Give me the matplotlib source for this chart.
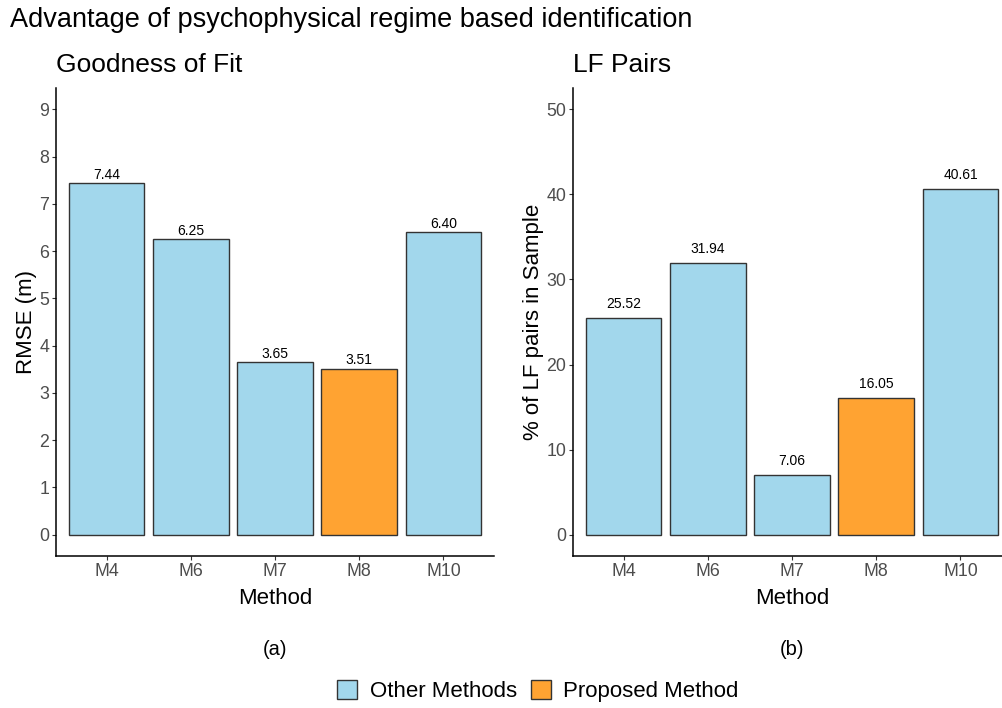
import matplotlib
matplotlib.use("Agg")
import matplotlib.pyplot as plt
from matplotlib.patches import Patch

plt.rcParams["font.family"] = ["Liberation Sans", "DejaVu Sans"]

methods = ["M4", "M6", "M7", "M8", "M10"]
rmse = [7.44, 6.25, 3.65, 3.51, 6.40]
lf_pairs = [25.52, 31.94, 7.06, 16.05, 40.61]
groups = ["Other Methods", "Other Methods", "Other Methods", "Proposed Method", "Other Methods"]

group_colors = {"Other Methods": "#A2D7EC", "Proposed Method": "#FFA332"}
edge = "#333333"
tick_gray = "#4D4D4D"

W, H = 1002, 708
fig = plt.figure(figsize=(W / 100, H / 100), dpi=100)


def px_axes(x0, y0, x1, y1):
    return fig.add_axes([x0 / W, 1 - y1 / H, (x1 - x0) / W, (y1 - y0) / H])


def panel(ax, values, yticks, ylim, ylabel, title, tag, label_offset):
    xs = list(range(1, len(methods) + 1))
    colors = [group_colors[g] for g in groups]
    ax.bar(xs, values, width=0.9, color=colors, edgecolor=edge, linewidth=1.0, zorder=2)
    for x, v in zip(xs, values):
        ax.annotate(f"{v:.2f}", (x, v), xytext=(0, label_offset), textcoords="offset points",
                    ha="center", va="bottom", fontsize=10, color="black")
    ax.set_xlim(0.4, len(methods) + 0.6)
    ax.set_ylim(*ylim)
    ax.set_xticks(xs)
    ax.set_xticklabels(methods)
    ax.set_yticks(yticks)
    ax.set_yticklabels([str(t) for t in yticks])
    for s in ("top", "right"):
        ax.spines[s].set_visible(False)
    for s in ("left", "bottom"):
        ax.spines[s].set_linewidth(1.1)
        ax.spines[s].set_color("black")
    ax.tick_params(axis="both", length=3, width=0.8, color="#333333",
                   labelcolor=tick_gray, labelsize=12.8, pad=2)
    ax.set_xlabel("Method", fontsize=16, labelpad=5.5)
    ax.set_ylabel(ylabel, fontsize=16, labelpad=1.5)
    ax.set_title(title, loc="left", fontsize=19, pad=11.5)
    ax.text(0.5, -0.199, tag, transform=ax.transAxes, ha="center", va="center", fontsize=14.5)


ax1 = px_axes(56, 88, 494, 556)
panel(ax1, rmse, list(range(0, 10)), (-0.45, 9.45), "RMSE (m)", "Goodness of Fit", "(a)", 1.0)

ax2 = px_axes(573, 88, 1011, 556)
panel(ax2, lf_pairs, [0, 10, 20, 30, 40, 50], (-2.5, 52.5), "% of LF pairs in Sample",
      "LF Pairs", "(b)", 5.0)

fig.text(10 / W, 1 - 27 / H, "Advantage of psychophysical regime based identification",
         ha="left", va="baseline", fontsize=19.5)

handles = [Patch(facecolor=group_colors[g], edgecolor=edge, linewidth=1.0, label=g)
           for g in ["Other Methods", "Proposed Method"]]
fig.legend(handles=handles, loc="center", bbox_to_anchor=(538 / W, 1 - 691 / H), ncol=2,
           frameon=False, fontsize=16, handlelength=0.9, handleheight=0.9,
           handletextpad=0.55, columnspacing=0.65)

fig.savefig("out.png", dpi=100)
